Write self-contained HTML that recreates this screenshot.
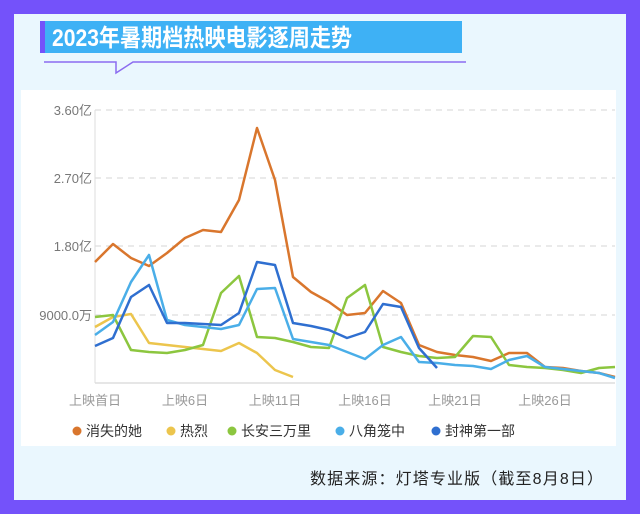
<!DOCTYPE html>
<html><head><meta charset="utf-8"><style>
body{margin:0;width:640px;height:514px;background:#7452fa;overflow:hidden;font-family:"Liberation Sans","Noto Sans CJK SC",sans-serif}
</style></head><body>
<svg width="640" height="514" xmlns="http://www.w3.org/2000/svg" style="position:absolute;left:0;top:0">
<rect x="0" y="0" width="640" height="514" fill="#7452fa"/>
<rect x="14" y="14" width="612" height="486" fill="#eaf7fe"/>
<rect x="21" y="90" width="595" height="356" fill="#ffffff"/>
<rect x="40" y="21" width="422" height="32" fill="#3eb1f5"/>
<rect x="40" y="21" width="5" height="32" fill="#7452fa"/>
<text x="52" y="46" font-size="24" font-weight="bold" fill="#fff" textLength="300" lengthAdjust="spacingAndGlyphs" font-family="Liberation Sans,Noto Sans CJK SC,sans-serif">2023年暑期档热映电影逐周走势</text>
<polyline points="44,62 116,62 116,73 133,62 466,62" fill="none" stroke="#8b6cf0" stroke-width="1.5"/>
<g stroke="#d6d6d6" stroke-dasharray="6,5" stroke-width="1">
<line x1="95" y1="110" x2="615" y2="110"/><line x1="95" y1="178" x2="615" y2="178"/>
<line x1="95" y1="246" x2="615" y2="246"/><line x1="95" y1="315" x2="615" y2="315"/>
</g>
<line x1="95" y1="383" x2="615" y2="383" stroke="#ddd" stroke-width="1.5"/>
<line x1="95" y1="110" x2="95" y2="383" stroke="#ddd" stroke-width="1"/>
<g font-size="13" fill="#777" text-anchor="end">
<text x="92" y="115">3.60亿</text><text x="92" y="183">2.70亿</text>
<text x="92" y="251">1.80亿</text><text x="92" y="320">9000.0万</text>
</g>
<g font-size="13" fill="#999" text-anchor="middle">
<text x="95" y="405">上映首日</text><text x="185" y="405">上映6日</text><text x="275" y="405">上映11日</text>
<text x="365" y="405">上映16日</text><text x="455" y="405">上映21日</text><text x="545" y="405">上映26日</text>
</g>
<g fill="none" stroke-width="2.5" stroke-linejoin="round">
<polyline stroke="#d9762d" points="95,262 113,244 131,258 149,266 167,253 185,238 203,230 221,232 239,200 257,128 275,180 293,277 311,292 329,302 347,315 365,313 383,291 401,303 419,345 437,352 455,355 473,357 491,361 509,353 527,353 545,367 563,368 581,371 599,373 615,377"/>
<polyline stroke="#ecc54d" points="95,327 113,317 131,314 149,343 167,345 185,347 203,349 221,351 239,343 257,353 275,370 293,377"/>
<polyline stroke="#8cc63f" points="95,317 113,315 131,350 149,352 167,353 185,350 203,345 221,293 239,276 257,337 275,338 293,342 311,347 329,348 347,298 365,285 383,347 401,352 419,356 437,358 455,357 473,336 491,337 509,365 527,367 545,368 563,370 581,373 599,368 615,367"/>
<polyline stroke="#4aaee8" points="95,335 113,322 131,282 149,255 167,320 185,325 203,327 221,329 239,325 257,289 275,288 293,339 311,342 329,345 347,352 365,359 383,345 401,337 419,362 437,363 455,365 473,366 491,369 509,360 527,356 545,367 563,369 581,371 599,373 615,378"/>
<polyline stroke="#2f6fd0" points="95,346 113,338 131,297 149,285 167,323 185,323 203,324 221,325 239,313 257,262 275,265 293,323 311,326 329,330 347,338 365,332 383,304 401,307 419,348 437,368"/>
</g>
<g font-size="14" fill="#333">
<circle cx="77" cy="431" r="4.5" fill="#d9762d"/><text x="86" y="436">消失的她</text>
<circle cx="171" cy="431" r="4.5" fill="#ecc54d"/><text x="180" y="436">热烈</text>
<circle cx="232" cy="431" r="4.5" fill="#8cc63f"/><text x="241" y="436">长安三万里</text>
<circle cx="340" cy="431" r="4.5" fill="#4aaee8"/><text x="349" y="436">八角笼中</text>
<circle cx="436" cy="431" r="4.5" fill="#2f6fd0"/><text x="445" y="436">封神第一部</text>
</g>
<text x="310" y="484" font-size="16" fill="#222" textLength="293" lengthAdjust="spacing">数据来源：灯塔专业版（截至8月8日）</text>
</svg>
</body></html>
